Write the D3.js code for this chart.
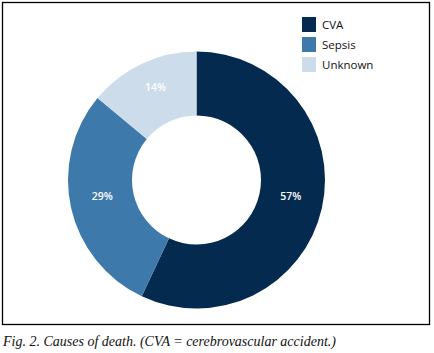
<!DOCTYPE html>
<html>
<head>
<meta charset="utf-8">
<script src="https://cdn.jsdelivr.net/npm/d3@7"></script>
<style>
  body { margin: 0; background: #fff; }
  svg { display: block; }
</style>
</head>
<body>
<div id="chart"></div>
<script>
// data
const causes = ['CVA', 'Sepsis', 'Unknown']
const shares = [57, 29, 14]
const colors = ['#052a4f', '#3e79ab', '#cddcea']

const W = 434, H = 353

const svg = d3.select('#chart').append('svg')
  .attr('width', W)
  .attr('height', H)

// outer frame
svg.append('rect')
  .attr('x', 2.5).attr('y', 2.5)
  .attr('width', 427).attr('height', 322)
  .attr('fill', 'none')
  .attr('stroke', '#000')
  .attr('stroke-width', 1.3)

const cx = 196.5, cy = 180
const rOuter = 128.5, rInner = 64.5

const data = causes.map((c, i) => ({ name: c, value: shares[i] }))

const pie = d3.pie().value(d => d.value).sort(null)
const arc = d3.arc().innerRadius(rInner).outerRadius(rOuter)
const color = d3.scaleOrdinal().domain(causes).range(colors)

const g = svg.append('g').attr('transform', `translate(${cx},${cy})`)

const arcs = pie(data)

g.selectAll('path')
  .data(arcs)
  .enter().append('path')
  .attr('d', arc)
  .attr('fill', d => color(d.data.name))

g.selectAll('text')
  .data(arcs)
  .enter().append('text')
  .attr('transform', d => {
    let [x, y] = arc.centroid(d)
    return 'translate(' + x + ',' + (y - 5) + ')'
  })
  .attr('text-anchor', 'middle')
  .attr('dy', '0.35em')
  .attr('fill', '#fff')
  .attr('font-family', '"Open Sans", sans-serif')
  .attr('font-size', 10.5)
  .attr('font-weight', 600)
  .text(d => d.data.value + '%')

// legend
const legend = svg.append('g').attr('transform', 'translate(302,17)')
const rows = legend.selectAll('g')
  .data(causes)
  .enter().append('g')
  .attr('transform', (d, i) => 'translate(0,' + i * 20 + ')')

rows.append('rect')
  .attr('width', 14).attr('height', 15)
  .attr('fill', d => color(d))

rows.append('text')
  .attr('x', 20).attr('y', 7.5)
  .attr('dy', '0.35em')
  .attr('font-family', '"Open Sans", sans-serif')
  .attr('font-size', 11.5)
  .attr('fill', '#111')
  .text(d => d)

// caption
svg.append('text')
  .attr('x', 3).attr('y', 346)
  .attr('font-family', '"Liberation Serif", serif')
  .attr('font-style', 'italic')
  .attr('font-size', 14)
  .attr('fill', '#111')
  .text('Fig. 2. Causes of death. (CVA = cerebrovascular accident.)')
</script>
</body>
</html>
